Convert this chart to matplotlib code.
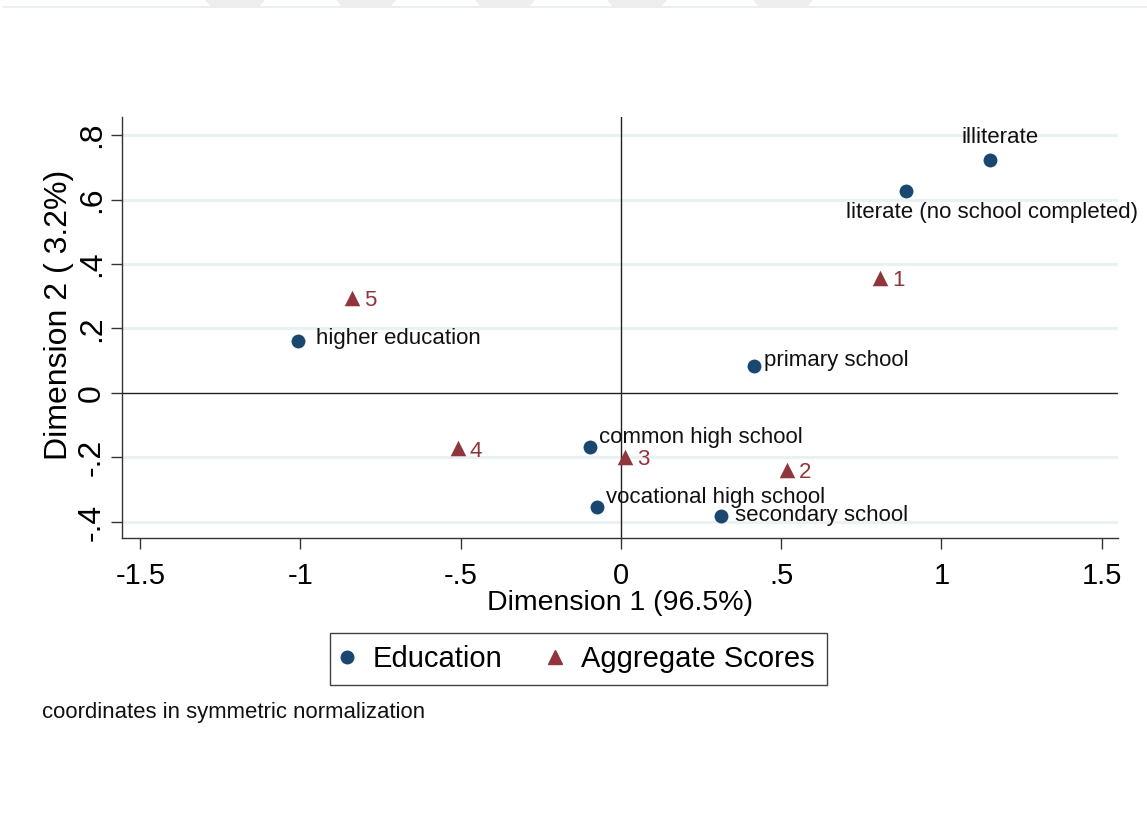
import matplotlib
matplotlib.use('Agg')
import matplotlib.pyplot as plt
from matplotlib.patches import Polygon
from matplotlib.lines import Line2D

plt.rcParams['font.family'] = ['Liberation Sans', 'DejaVu Sans']

# row points (education categories)
edu_names = ['illiterate', 'literate (no school completed)', 'primary school',
             'secondary school', 'common high school', 'vocational high school',
             'higher education']
edu_x = [1.151, 0.889, 0.415, 0.312, -0.097, -0.075, -1.008]
edu_y = [0.722, 0.626, 0.084, -0.381, -0.167, -0.353, 0.161]
# label offsets in pixels (marker label position)
edu_off = [(10, 23), (86, -21), (10, 5), (14, 0), (9, 9), (9, 9), (18, 3)]
edu_ha = ['center', 'center', 'left', 'left', 'left', 'left', 'left']

# column points (aggregate scores)
agg_names = ['1', '2', '3', '4', '5']
agg_x = [0.808, 0.518, 0.012, -0.509, -0.839]
agg_y = [0.357, -0.239, -0.198, -0.171, 0.295]

navy = '#1a476f'
maroon = '#90353b'
grid_c = '#eaf1f3'

fig = plt.figure(figsize=(11.47, 8.30), dpi=100)
fig.patch.set_facecolor('white')

# faint header strip at the top of the page
for x0 in [205, 336, 475, 607, 753]:
    pts = [(x0, 830), (x0 + 60, 830), (x0 + 54, 823), (x0 + 6, 823)]
    fig.patches.append(Polygon([(px / 1147, py / 830) for px, py in pts],
                               closed=True, transform=fig.transFigure,
                               facecolor='#eeeeee', edgecolor='none'))
fig.add_artist(Line2D([4 / 1147, 1], [1 - 7.5 / 830, 1 - 7.5 / 830],
                      transform=fig.transFigure, color='#e6eeee', lw=1.2))

ax = fig.add_axes([122 / 1147, 1 - 538 / 830, 996 / 1147, 421 / 830])
ax.set_xlim(-1.557, 1.551)
ax.set_ylim(-0.45, 0.856)

for g in [-0.4, -0.2, 0.2, 0.4, 0.6, 0.8]:
    ax.axhline(g, color=grid_c, lw=2.2, zorder=0)
ax.axhline(0, color='#222222', lw=1.0, zorder=1)
ax.axvline(0, color='#222222', lw=1.0, zorder=1)

ax.scatter(edu_x, edu_y, s=100, marker='o', color=navy, zorder=3, linewidths=0)
ax.scatter(agg_x, agg_y, s=125, marker='^', color=maroon, zorder=3, linewidths=0)

for name, x, y, off, ha in zip(edu_names, edu_x, edu_y, edu_off, edu_ha):
    ax.annotate(name, (x, y), xytext=off, textcoords='offset pixels',
                ha=ha, va='center', fontsize=16, color='#111111', zorder=4)
for name, x, y in zip(agg_names, agg_x, agg_y):
    ax.annotate(name, (x, y), xytext=(12, -3), textcoords='offset pixels',
                ha='left', va='center', fontsize=16, color=maroon, zorder=4)

for side in ['top', 'right']:
    ax.spines[side].set_visible(False)
for side in ['left', 'bottom']:
    ax.spines[side].set_color('#333333')
    ax.spines[side].set_linewidth(1.0)

ax.set_xticks([-1.5, -1, -0.5, 0, 0.5, 1, 1.5])
ax.set_xticklabels(['-1.5', '-1', '-.5', '0', '.5', '1', '1.5'])
ax.set_yticks([-0.4, -0.2, 0, 0.2, 0.4, 0.6, 0.8])
ax.set_yticklabels(['-.4', '-.2', '0', '.2', '.4', '.6', '.8'],
                   rotation=90, va='center')
ax.tick_params(axis='both', direction='out', length=8, width=1.0,
               color='#333333')
ax.tick_params(axis='x', labelsize=21, pad=9)
ax.tick_params(axis='y', labelsize=23, pad=3)

ax.set_xlabel('Dimension 1 (96.5%)', fontsize=20.5, labelpad=0)
ax.set_ylabel('Dimension 2 ( 3.2%)', fontsize=23)
ax.yaxis.set_label_coords(-0.048, 0.53)

handles = [Line2D([], [], marker='o', ls='none', color=navy, markersize=9),
           Line2D([], [], marker='^', ls='none', color=maroon, markersize=10)]
leg = fig.legend(handles, ['Education', 'Aggregate Scores'], loc='center',
                 bbox_to_anchor=(578.5 / 1147, 1 - 659 / 830), ncol=2,
                 fontsize=21, frameon=True, fancybox=False, handletextpad=0.75,
                 columnspacing=1.65, handlelength=0.3, borderpad=0.42,
                 borderaxespad=0)
leg.get_frame().set_edgecolor('#111111')
leg.get_frame().set_linewidth(1.0)

fig.text(42 / 1147, 1 - 712 / 830, 'coordinates in symmetric normalization',
         fontsize=15.9, va='center', ha='left', color='#111111')

fig.savefig('out.png', dpi=100, facecolor='white')
